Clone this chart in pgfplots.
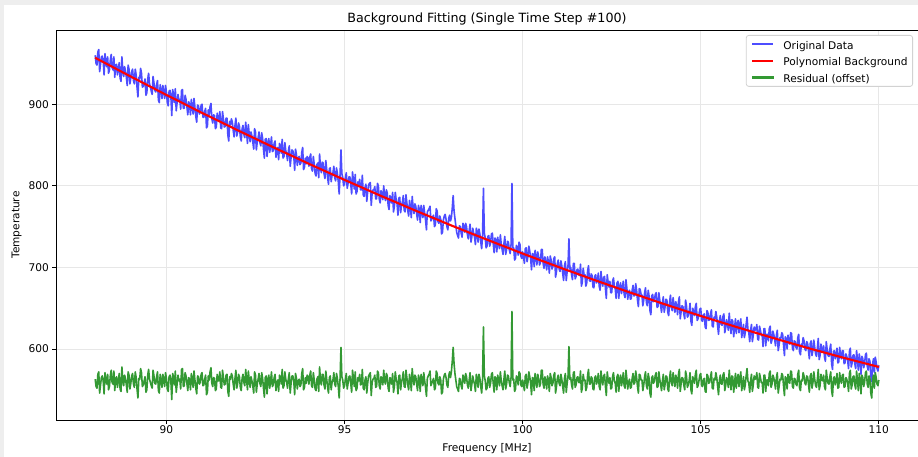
\documentclass[border=0pt]{standalone}
\usepackage{fontspec}
\setmainfont{DejaVu Sans}
\usepackage{pgfplots}
\usepackage{pgfplotstable}
\pgfplotsset{compat=1.18}
\definecolor{bgray}{RGB}{238,238,238}
\definecolor{origblue}{RGB}{77,77,255}
\definecolor{resgreen}{RGB}{51,153,51}
\definecolor{gridgray}{RGB}{231,231,231}
\definecolor{legedge}{RGB}{210,210,210}

\pgfplotstableread{
x orig res
88.000 960 563
88.025 950 554
88.050 948 552
88.075 964 569
88.100 967 572
88.125 940 546
88.150 949 556
88.175 958 565
88.200 959 567
88.225 953 561
88.250 936 545
88.275 962 571
88.300 952 562
88.325 946 557
88.350 958 569
88.375 938 550
88.400 942 554
88.425 954 567
88.450 961 574
88.475 945 559
88.500 942 557
88.525 958 573
88.550 933 549
88.575 948 564
88.600 949 566
88.625 936 553
88.650 943 561
88.675 951 570
88.700 932 551
88.725 928 548
88.750 958 578
88.775 941 562
88.800 934 555
88.825 946 568
88.850 941 564
88.875 933 556
88.900 923 547
88.925 948 572
88.950 943 568
88.975 925 551
89.000 932 558
89.025 940 567
89.050 943 570
89.075 929 557
89.100 925 553
89.125 943 572
89.150 936 565
89.175 921 551
89.200 909 540
89.225 933 564
89.250 931 563
89.275 944 576
89.300 938 571
89.325 921 554
89.350 922 556
89.375 926 561
89.400 931 566
89.425 911 547
89.450 914 550
89.475 931 568
89.500 938 575
89.525 925 563
89.550 921 559
89.575 916 555
89.600 912 552
89.625 934 574
89.650 926 567
89.675 917 558
89.700 915 557
89.725 924 566
89.750 929 572
89.775 905 549
89.800 902 546
89.825 924 569
89.850 917 562
89.875 907 553
89.900 923 569
89.925 915 562
89.950 907 554
89.975 923 571
90.000 915 564
90.025 902 551
90.050 898 548
90.075 916 566
90.100 917 568
90.125 910 561
90.150 886 538
90.175 918 570
90.200 912 565
90.225 902 556
90.250 919 573
90.275 892 547
90.300 902 557
90.325 912 568
90.350 905 561
90.375 906 563
90.400 894 551
90.425 917 575
90.450 918 576
90.475 895 554
90.500 895 555
90.525 911 571
90.550 906 567
90.575 897 558
90.600 887 549
90.625 903 565
90.650 900 563
90.675 887 550
90.700 906 570
90.725 897 562
90.750 888 553
90.775 907 573
90.800 896 562
90.825 885 552
90.850 878 545
90.875 899 567
90.900 898 566
90.925 888 557
90.950 890 559
90.975 899 569
91.000 900 571
91.025 884 555
91.050 884 556
91.075 891 563
91.100 895 568
91.125 871 544
91.150 873 547
91.175 893 567
91.200 887 562
91.225 897 572
91.250 901 577
91.275 882 558
91.300 877 554
91.325 887 565
91.350 886 564
91.375 870 549
91.400 872 551
91.425 889 569
91.450 881 561
91.475 880 561
91.500 891 572
91.525 871 553
91.550 870 552
91.575 891 574
91.600 882 565
91.625 872 556
91.650 873 557
91.675 883 568
91.700 883 569
91.725 862 548
91.750 855 542
91.775 879 566
91.800 875 563
91.825 882 570
91.850 878 567
91.875 868 557
91.900 860 550
91.925 874 564
91.950 883 574
91.975 861 552
92.000 866 558
92.025 877 569
92.050 873 566
92.075 860 553
92.100 855 549
92.125 870 564
92.150 874 569
92.175 863 559
92.200 859 555
92.225 878 575
92.250 866 563
92.275 852 550
92.300 875 573
92.325 863 562
92.350 854 553
92.375 866 566
92.400 861 561
92.425 854 555
92.450 845 546
92.475 870 572
92.500 866 568
92.525 844 547
92.550 854 557
92.575 859 563
92.600 866 570
92.625 853 558
92.650 849 554
92.675 865 571
92.700 858 564
92.725 845 552
92.750 834 541
92.775 857 565
92.800 858 567
92.825 836 545
92.850 852 562
92.875 858 568
92.900 841 552
92.925 850 561
92.950 860 572
92.975 842 554
93.000 843 556
93.025 852 565
93.050 855 569
93.075 835 549
93.100 844 559
93.125 847 562
93.150 832 548
93.175 852 568
93.200 849 566
93.225 840 557
93.250 857 575
93.275 834 552
93.300 836 555
93.325 853 572
93.350 843 563
93.375 839 559
93.400 831 552
93.425 843 564
93.450 849 571
93.475 824 546
93.500 835 558
93.525 844 567
93.550 843 567
93.575 837 561
93.600 819 544
93.625 845 570
93.650 838 564
93.675 825 551
93.700 834 561
93.725 836 563
93.750 826 554
93.775 828 556
93.800 841 570
93.825 847 576
93.850 820 550
93.875 823 553
93.900 834 565
93.925 827 558
93.950 836 568
93.975 834 566
94.000 824 557
94.025 835 568
94.050 839 573
94.075 821 555
94.100 818 553
94.125 836 571
94.150 826 562
94.175 815 551
94.200 812 549
94.225 826 563
94.250 828 566
94.275 810 548
94.300 839 578
94.325 822 561
94.350 816 556
94.375 829 569
94.400 828 569
94.425 815 556
94.450 809 551
94.475 831 573
94.500 820 563
94.525 810 553
94.550 802 546
94.575 821 565
94.600 822 567
94.625 805 550
94.650 813 559
94.675 816 562
94.700 824 571
94.725 810 557
94.750 806 554
94.775 822 570
94.800 815 564
94.825 805 554
94.850 790 540
94.875 814 564
94.900 844 602
94.925 815 566
94.950 810 562
94.975 800 552
95.000 802 555
95.025 810 563
95.050 816 570
95.075 797 551
95.100 803 558
95.125 811 566
95.150 811 567
95.175 802 558
95.200 790 547
95.225 817 574
95.250 806 564
95.275 796 554
95.300 814 572
95.325 790 549
95.350 793 552
95.375 805 565
95.400 801 561
95.425 808 569
95.450 795 556
95.475 795 557
95.500 813 575
95.525 789 552
95.550 787 550
95.575 798 562
95.600 802 566
95.625 781 546
95.650 793 558
95.675 801 567
95.700 803 569
95.725 804 571
95.750 776 543
95.775 791 559
95.800 795 563
95.825 795 564
95.850 799 568
95.875 784 553
95.900 784 554
95.925 803 573
95.950 800 571
95.975 784 555
96.000 779 551
96.025 794 566
96.050 791 564
96.075 783 556
96.100 800 574
96.125 787 561
96.150 782 557
96.175 795 570
96.200 791 567
96.225 776 552
96.250 771 548
96.275 788 565
96.300 784 561
96.325 779 557
96.350 792 570
96.375 768 547
96.400 775 554
96.425 792 572
96.450 783 563
96.475 778 559
96.500 764 545
96.525 785 567
96.550 786 568
96.575 767 550
96.600 776 559
96.625 780 564
96.650 788 572
96.675 770 554
96.700 768 553
96.725 789 574
96.750 779 565
96.775 770 556
96.800 763 550
96.825 782 569
96.850 774 562
96.875 761 549
96.900 787 576
96.925 774 563
96.950 766 556
96.975 778 568
97.000 775 566
97.025 766 557
97.050 758 549
97.075 776 568
97.100 771 563
97.125 755 548
97.150 776 569
97.175 768 562
97.200 761 555
97.225 776 571
97.250 766 561
97.275 758 553
97.300 746 542
97.325 768 564
97.350 770 567
97.375 772 569
97.400 775 573
97.425 757 555
97.450 759 558
97.475 762 561
97.500 764 564
97.525 750 550
97.550 752 552
97.575 772 573
97.600 769 570
97.625 756 558
97.650 754 556
97.675 763 566
97.700 759 562
97.725 741 545
97.750 743 547
97.775 758 563
97.800 763 568
97.825 765 570
97.850 759 565
97.875 750 556
97.900 746 553
97.925 760 567
97.950 764 572
97.975 757 565
98.000 761 572
98.025 773 585
98.050 788 602
98.075 769 582
98.100 760 570
98.125 751 562
98.150 743 554
98.175 739 551
98.200 736 548
98.225 751 564
98.250 750 563
98.275 742 555
98.300 737 551
98.325 754 568
98.350 750 565
98.375 743 558
98.400 754 570
98.425 750 566
98.450 740 556
98.475 735 552
98.500 745 562
98.525 753 571
98.550 731 549
98.575 738 557
98.600 748 567
98.625 742 561
98.650 737 557
98.675 728 548
98.700 748 569
98.725 744 565
98.750 731 553
98.775 747 569
98.800 741 564
98.825 731 554
98.850 723 546
98.875 739 563
98.900 797 627
98.925 742 567
98.950 736 561
98.975 724 550
99.000 726 552
99.025 738 564
99.050 739 566
99.075 726 553
99.100 730 558
99.125 741 569
99.150 742 571
99.175 729 558
99.200 718 547
99.225 736 566
99.250 734 564
99.275 719 550
99.300 737 568
99.325 729 561
99.350 723 555
99.375 740 572
99.400 728 561
99.425 722 555
99.450 716 550
99.475 729 563
99.500 738 573
99.525 716 551
99.550 722 557
99.575 732 568
99.600 731 567
99.625 722 559
99.650 717 554
99.675 728 565
99.700 803 646
99.725 724 562
99.750 724 563
99.775 709 548
99.800 711 551
99.825 727 567
99.850 725 565
99.875 715 556
99.900 731 572
99.925 728 570
99.950 714 556
99.975 711 554
100.000 719 562
100.025 713 556
100.050 705 549
100.075 723 567
100.100 724 569
100.125 707 552
100.150 714 559
100.175 726 572
100.200 720 566
100.225 711 558
100.250 697 544
100.275 717 565
100.300 716 564
100.325 701 549
100.350 721 570
100.375 714 563
100.400 703 553
100.425 719 569
100.450 713 563
100.475 703 554
100.500 706 557
100.525 722 574
100.550 722 574
100.575 705 557
100.600 699 552
100.625 713 566
100.650 707 561
100.675 697 551
100.700 713 567
100.725 706 561
100.750 693 548
100.775 714 570
100.800 709 565
100.825 698 555
100.850 701 558
100.875 711 568
100.900 713 571
100.925 688 546
100.950 695 554
100.975 705 564
101.000 709 568
101.025 698 558
101.050 695 555
101.075 708 569
101.100 702 563
101.125 693 554
101.150 684 546
101.175 702 564
101.200 707 570
101.225 684 547
101.250 695 558
101.275 703 567
101.300 735 603
101.325 698 563
101.350 700 565
101.375 691 556
101.400 685 551
101.425 705 571
101.450 705 572
101.475 686 553
101.500 689 556
101.525 697 565
101.550 698 566
101.575 691 559
101.600 690 559
101.625 704 573
101.650 677 547
101.675 682 552
101.700 699 569
101.725 691 562
101.750 691 562
101.775 677 549
101.800 681 553
101.825 696 568
101.850 702 575
101.875 684 557
101.900 683 557
101.925 692 566
101.950 690 564
101.975 676 551
102.000 675 550
102.025 689 565
102.050 691 567
102.075 681 557
102.100 684 561
102.125 693 570
102.150 677 554
102.175 672 550
102.200 695 573
102.225 683 562
102.250 677 556
102.275 688 567
102.300 689 569
102.325 674 554
102.350 662 543
102.375 691 572
102.400 682 563
102.425 676 558
102.450 683 565
102.475 669 551
102.500 669 552
102.525 683 566
102.550 687 571
102.575 677 561
102.600 674 558
102.625 662 547
102.650 681 566
102.675 683 569
102.700 662 548
102.725 677 563
102.750 681 568
102.775 668 555
102.800 674 561
102.825 683 571
102.850 667 555
102.875 663 552
102.900 685 574
102.925 675 564
102.950 661 551
102.975 669 559
103.000 672 563
103.025 661 552
103.050 662 553
103.075 672 564
103.100 678 570
103.125 665 557
103.150 666 559
103.175 680 573
103.200 672 565
103.225 660 554
103.250 652 546
103.275 674 569
103.300 673 568
103.325 667 562
103.350 666 562
103.375 653 549
103.400 660 556
103.425 669 566
103.450 675 572
103.475 657 555
103.500 653 551
103.525 672 570
103.550 665 564
103.575 647 546
103.600 642 541
103.625 665 565
103.650 667 567
103.675 658 558
103.700 660 561
103.725 667 568
103.750 669 571
103.775 651 553
103.800 652 554
103.825 669 572
103.850 660 563
103.875 653 556
103.900 645 549
103.925 657 561
103.950 664 569
103.975 645 550
104.000 652 557
104.025 661 567
104.050 660 566
104.075 645 551
104.100 641 548
104.125 657 564
104.150 666 573
104.175 651 559
104.200 647 555
104.225 663 571
104.250 653 562
104.275 645 554
104.300 658 568
104.325 653 563
104.350 642 552
104.375 658 569
104.400 664 575
104.425 637 548
104.450 646 558
104.475 653 565
104.500 652 564
104.525 643 556
104.550 637 550
104.575 660 573
104.600 653 567
104.625 639 553
104.650 641 556
104.675 646 561
104.700 656 571
104.725 634 550
104.750 629 545
104.775 650 566
104.800 646 563
104.825 641 558
104.850 652 569
104.875 656 574
104.900 635 553
104.925 637 555
104.950 642 561
104.975 649 568
105.000 650 570
105.025 635 555
105.050 634 554
105.075 642 563
105.100 643 564
105.125 627 548
105.150 625 547
105.175 647 569
105.200 645 567
105.225 635 558
105.250 636 559
105.275 643 566
105.300 648 572
105.325 628 552
105.350 627 551
105.375 639 564
105.400 637 562
105.425 646 571
105.450 639 565
105.475 628 554
105.500 618 544
105.525 635 562
105.550 641 568
105.575 630 557
105.600 629 557
105.625 640 568
105.650 643 571
105.675 620 549
105.700 626 555
105.725 636 565
105.750 631 561
105.775 623 553
105.800 644 574
105.825 630 561
105.850 619 550
105.875 636 567
105.900 634 566
105.925 615 547
105.950 626 558
105.975 637 570
106.000 619 552
106.025 631 564
106.050 635 569
106.075 620 554
106.100 629 563
106.125 637 572
106.150 614 549
106.175 622 557
106.200 630 566
106.225 614 550
106.250 620 556
106.275 630 567
106.300 639 576
106.325 624 561
106.350 620 558
106.375 609 547
106.400 623 561
106.425 630 569
106.450 609 548
106.475 617 556
106.500 627 567
106.525 623 563
106.550 624 564
106.575 630 571
106.600 612 553
106.625 611 552
106.650 628 570
106.675 623 565
106.700 617 559
106.725 617 559
106.750 603 546
106.775 625 568
106.800 625 568
106.825 604 548
106.850 618 562
106.875 618 562
106.900 610 555
106.925 625 570
106.950 628 573
106.975 607 553
107.000 611 557
107.025 622 568
107.050 618 565
107.075 612 559
107.100 604 551
107.125 617 565
107.150 623 571
107.175 598 546
107.200 605 554
107.225 614 563
107.250 613 562
107.275 620 570
107.300 618 568
107.325 605 555
107.350 592 543
107.375 615 566
107.400 613 564
107.425 600 551
107.450 617 569
107.475 609 561
107.500 606 558
107.525 620 573
107.550 619 572
107.575 601 554
107.600 598 552
107.625 610 564
107.650 609 563
107.675 602 557
107.700 600 555
107.725 614 569
107.750 618 574
107.775 596 552
107.800 593 549
107.825 606 562
107.850 604 561
107.875 614 571
107.900 610 567
107.925 600 558
107.950 598 556
107.975 609 567
108.000 607 566
108.025 598 557
108.050 588 547
108.075 607 567
108.100 610 570
108.125 592 552
108.150 599 559
108.175 611 572
108.200 602 563
108.225 594 555
108.250 591 553
108.275 601 563
108.300 613 575
108.325 587 550
108.350 592 555
108.375 606 569
108.400 599 562
108.425 597 561
108.450 604 568
108.475 590 554
108.500 585 550
108.525 609 574
108.550 599 564
108.575 592 558
108.600 591 557
108.625 600 566
108.650 606 572
108.675 582 549
108.700 575 542
108.725 597 564
108.750 598 566
108.775 588 556
108.800 593 561
108.825 601 570
108.850 583 552
108.875 584 553
108.900 602 571
108.925 592 562
108.950 588 558
108.975 598 568
109.000 598 569
109.025 582 553
109.050 583 554
109.075 594 565
109.100 591 563
109.125 586 558
109.150 576 548
109.175 597 570
109.200 601 574
109.225 578 551
109.250 583 556
109.275 592 566
109.300 593 567
109.325 582 556
109.350 576 551
109.375 598 573
109.400 587 562
109.425 574 549
109.450 594 570
109.475 587 563
109.500 569 545
109.525 591 568
109.550 588 565
109.575 577 554
109.600 582 559
109.625 593 571
109.650 595 573
109.675 579 557
109.700 574 553
109.725 588 567
109.750 585 564
109.775 567 546
109.800 560 540
109.825 582 562
109.850 588 568
109.875 571 552
109.900 590 571
109.925 584 565
109.950 576 557
109.975 573 555
110.000 580 562
}\spectrum

\begin{document}
\begin{tikzpicture}[x=1pt,y=1pt]
\fill[bgray] (0,0) rectangle (918,457);
\fill[white] (4,0) rectangle (918,452);
\begin{axis}[
  at={(56pt,37pt)}, anchor=south west,
  scale only axis, width=863.5pt, height=390pt,
  xmin=86.9, xmax=111.142, ymin=513, ymax=991,
  xtick={90,95,100,105,110}, ytick={600,700,800,900},
  tick align=outside, xtick pos=bottom, ytick pos=left,
  major tick length=3.7pt,
  tick style={black, line width=0.85pt},
  axis line style={black, line width=0.85pt},
  grid=major, grid style={gridgray, line width=0.85pt},
  /pgf/number format/assume math mode=true,
  ticklabel style={font=\fontsize{10.6}{12}\selectfont},
  xticklabel style={anchor=base, yshift=-10pt},
  title={Background Fitting (Single Time Step \#100)},
  title style={font=\fontsize{12.7}{15}\selectfont, at={(axis description cs:0.4991,1)}, anchor=base, yshift=1.6pt},
  xlabel={Frequency [MHz]},
  xlabel style={font=\fontsize{10.6}{12}\selectfont, at={(axis description cs:0.4991,0)}, anchor=base, yshift=-31.5pt},
  ylabel={Temperature},
  ylabel style={font=\fontsize{10.6}{12}\selectfont, at={(axis description cs:-0.0457,0.5)}, anchor=center},
  legend cell align=left,
  legend style={at={(axis description cs:1,1)}, anchor=north east, xshift=-6.5pt, yshift=-5pt,
    draw=legedge, line width=0.8pt, rounded corners=2.5pt, fill=white,
    font=\fontsize{10.6}{12}\selectfont, inner xsep=5pt, inner ysep=3.5pt, row sep=5.8pt,
    nodes={inner sep=0pt, text height=10.5pt, text depth=0.3pt},
    /tikz/every odd column/.append style={column sep=9pt}},
]
\addplot[origblue, line width=1.6pt, line join=round, forget plot] table[x=x, y=orig] {\spectrum};
\addplot[red, line width=2.1pt, line join=round, forget plot] coordinates {(88,956.9) (89,933.9) (90,911.4) (91,889.4) (92,868.1) (93,847.3) (94,827.0) (95,807.3) (96,788.1) (97,769.5) (98,751.4) (99,734.0) (100,717.0) (101,700.6) (102,684.8) (103,669.5) (104,654.7) (105,640.5) (106,627.0) (107,613.9) (108,601.3) (109,589.4) (110,578.0)};
\addplot[resgreen, line width=1.6pt, line join=round, forget plot] table[x=x, y=res] {\spectrum};
\addlegendimage{legend image code/.code={\draw[origblue, line width=1.8pt, rounded corners=0pt] (0pt,0pt) -- (21pt,0pt);}}
\addlegendentry{Original Data}
\addlegendimage{legend image code/.code={\draw[red, line width=2.1pt, rounded corners=0pt] (0pt,0pt) -- (21pt,0pt);}}
\addlegendentry{Polynomial Background}
\addlegendimage{legend image code/.code={\fill[resgreen, rounded corners=0pt] (0pt,-0.95pt) rectangle (21pt,0.95pt);}}
\addlegendentry{Residual (offset)}
\end{axis}
\pgfresetboundingbox
\path[use as bounding box] (0,0) rectangle (918,457);
\end{tikzpicture}
\end{document}
